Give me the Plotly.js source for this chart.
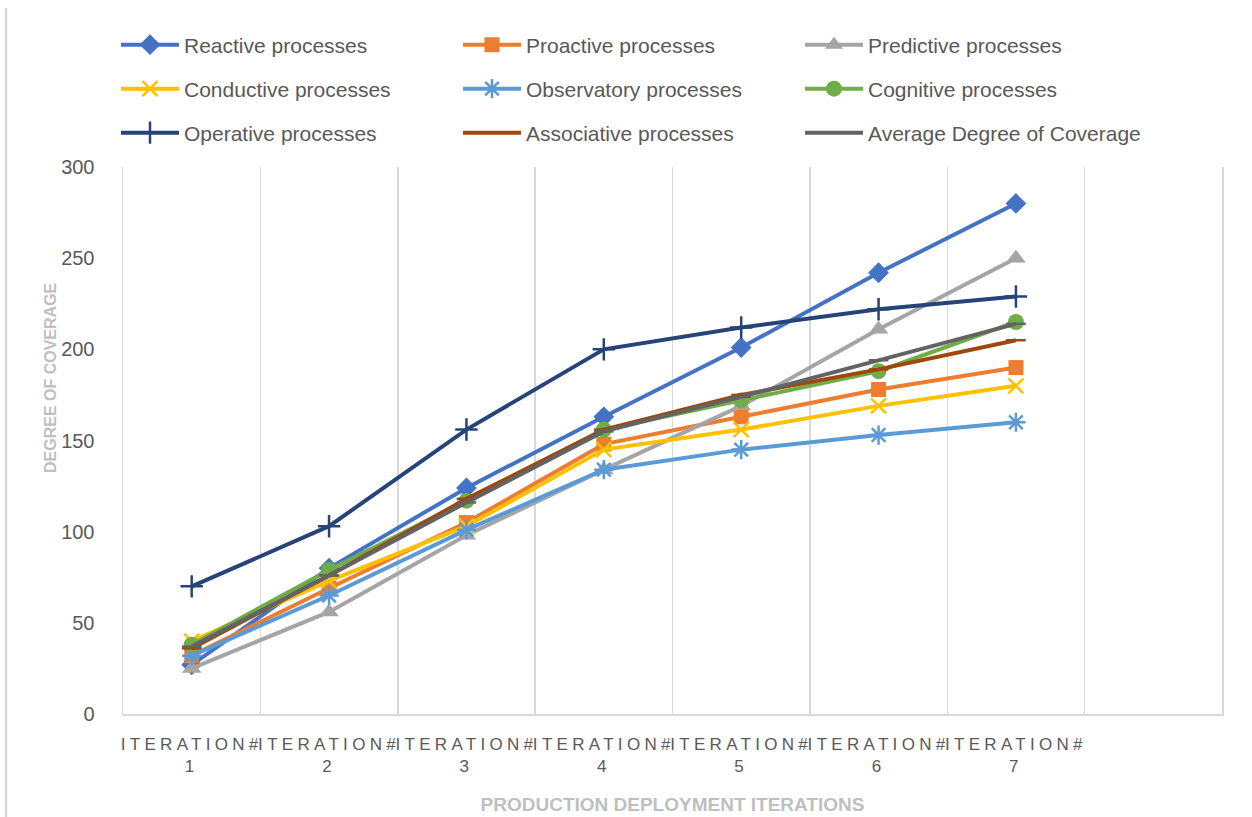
<!DOCTYPE html>
<html>
<head>
<meta charset="utf-8">
<script src="https://cdn.plot.ly/plotly-3.0.1.min.js"></script>
<style>
  html, body { margin: 0; padding: 0; background: #fff; }
  #chart { width: 1252px; height: 817px; }
  /* widely spaced category captions */
  .xtick text { letter-spacing: 4.3px; }
</style>
</head>
<body>
<div id="chart"></div>
<script>
// Iterations along the x axis
const iterations = [1, 2, 3, 4, 5, 6, 7];
const tickLabels = ["ITERATION#<br>1", "ITERATION#<br>2", "ITERATION#<br>3", "ITERATION#<br>4",
                    "ITERATION#<br>5", "ITERATION#<br>6", "ITERATION#<br>7"];

// Degree of coverage per process type
const reactive    = [27, 80, 124, 163, 201, 242, 280];
const proactive   = [32, 69, 105, 148, 163, 178, 190];
const predictive  = [25, 56, 98, 134, 169, 211, 250];
const conductive  = [40, 73, 103, 145, 156, 169, 180];
const observatory = [32, 65, 101, 134, 145, 153, 160];
const cognitive   = [38, 79, 117, 156, 172, 188, 215];
const operative   = [70, 103, 156, 200, 212, 222, 229];
const associative = [36, 76, 118, 156, 175, 189, 205];
const average     = [37, 76, 116, 155, 174, 194, 214];

const seriesNames = ["Reactive processes", "Proactive processes", "Predictive processes",
                     "Conductive processes", "Observatory processes", "Cognitive processes",
                     "Operative processes", "Associative processes", "Average Degree of Coverage"];

const styles = [
  {color: "#4472C4", symbol: "diamond", size: 16, legend: "legend"},
  {color: "#ED7D31", symbol: "square", size: 15, legend: "legend"},
  {color: "#A5A5A5", symbol: "triangle-up", size: 17, legend: "legend"},
  {color: "#FFC000", symbol: "x-thin-open", size: 15, legend: "legend2"},
  {color: "#5B9BD5", symbol: "asterisk-open", size: 16, legend: "legend2"},
  {color: "#70AD47", symbol: "circle", size: 16, legend: "legend2"},
  {color: "#264478", symbol: "cross-thin-open", size: 16, legend: "legend3"},
  {color: "#9E480E", symbol: "line-ew-open", size: 14, legend: "legend3"},
  {color: "#636363", symbol: "line-ew-open", size: 14, legend: "legend3"}
];

const values = [reactive, proactive, predictive, conductive, observatory,
                cognitive, operative, associative, average];

const traces = values.map((v, i) => {
  const s = styles[i];
  const open = s.symbol.endsWith("-open");
  return {
    type: "scatter",
    mode: "lines+markers",
    name: seriesNames[i],
    x: iterations,
    y: v,
    legend: s.legend,
    line: {color: s.color, width: 4},
    marker: {
      symbol: s.symbol, size: s.size, color: s.color,
      line: {color: s.color, width: open ? 2.5 : 0}
    },
    hoverinfo: "x+y+name"
  };
});

const textColor = "#595959";
const legendBase = {
  orientation: "h",
  xref: "container", yref: "container",
  x: 116 / 1252, xanchor: "left",
  yanchor: "middle",
  entrywidth: 269,
  itemwidth: 58,
  font: {family: "Liberation Sans, Arial, sans-serif", size: 21, color: textColor},
  bgcolor: "rgba(0,0,0,0)",
  borderwidth: 0,
  traceorder: "normal"
};

const layout = {
  width: 1252,
  height: 817,
  margin: {l: 123, r: 30, t: 167, b: 103},
  paper_bgcolor: "#ffffff",
  plot_bgcolor: "#ffffff",
  font: {family: "Liberation Sans, Arial, sans-serif", color: textColor},
  showlegend: true,
  legend:  Object.assign({}, legendBase, {y: 1 - 45 / 817}),
  legend2: Object.assign({}, legendBase, {y: 1 - 89 / 817}),
  legend3: Object.assign({}, legendBase, {y: 1 - 133 / 817}),
  xaxis: {
    range: [0.5, 8.5],
    tickmode: "array",
    tickvals: iterations,
    ticktext: tickLabels,
    ticks: "",
    ticklabelstandoff: 14,
    tickfont: {size: 17, color: textColor},
    showgrid: false,
    zeroline: false,
    showline: true,
    linecolor: "#D9D9D9",
    linewidth: 1.5,
    minor: {tickmode: "linear", tick0: 0.5, dtick: 1, showgrid: true,
            gridcolor: "#D9D9D9", gridwidth: 1.5, ticks: ""},
    title: {
      text: "<b>PRODUCTION DEPLOYMENT ITERATIONS</b>",
      font: {size: 19, color: "#BFBFBF"},
      standoff: 22
    },
    fixedrange: true
  },
  yaxis: {
    range: [0, 300],
    tickmode: "linear",
    tick0: 0,
    dtick: 50,
    ticks: "",
    ticklabelstandoff: 23,
    tickfont: {size: 20, color: textColor},
    showgrid: false,
    zeroline: false,
    showline: true,
    mirror: true,
    linecolor: "#D9D9D9",
    linewidth: 1.5,
    fixedrange: true
  },
  annotations: [{
    text: "<b>DEGREE OF COVERAGE</b>",
    xref: "paper", yref: "paper",
    x: (50 - 123) / 1099, y: (714 - 378) / 547,
    xanchor: "center", yanchor: "middle",
    textangle: -90,
    showarrow: false,
    font: {size: 16, color: "#BFBFBF"}
  }],
  shapes: [{
    type: "line", xref: "paper", yref: "paper",
    x0: (6 - 123) / 1099, x1: (6 - 123) / 1099,
    y0: (714 - 8) / 547, y1: (714 - 817) / 547,
    line: {color: "#D9D9D9", width: 2.5}
  }]
};

Plotly.newPlot("chart", traces, layout, {displayModeBar: false, staticPlot: true});
</script>
</body>
</html>
